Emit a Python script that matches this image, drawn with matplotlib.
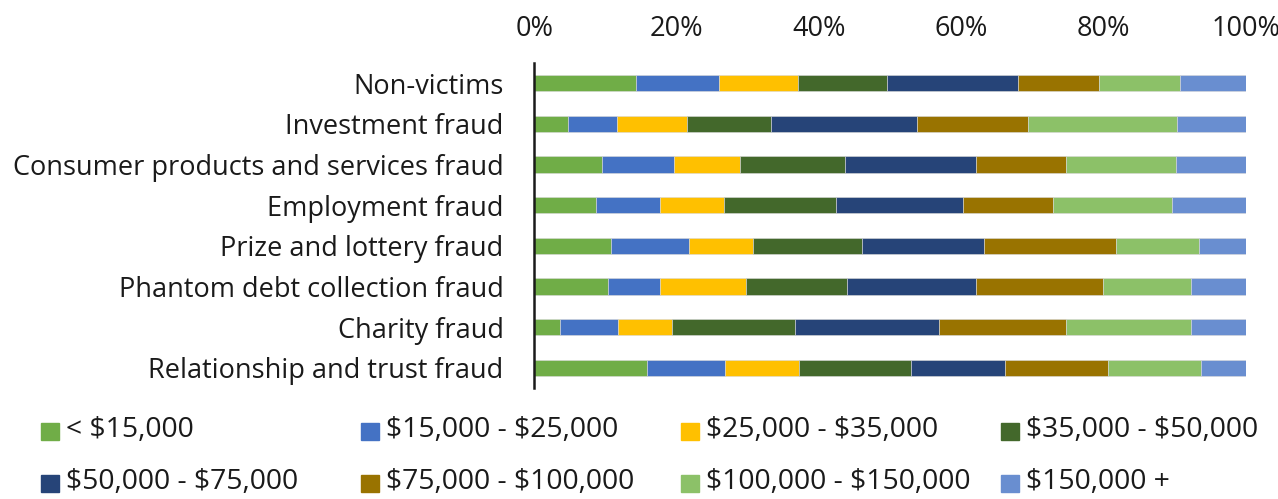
import matplotlib.pyplot as plt
from matplotlib.patches import Rectangle
import numpy as np

plt.rcParams['font.family'] = ['Open Sans', 'DejaVu Sans']
plt.rcParams['text.parse_math'] = False

categories = ['Non-victims', 'Investment fraud', 'Consumer products and services fraud',
              'Employment fraud', 'Prize and lottery fraud', 'Phantom debt collection fraud',
              'Charity fraud', 'Relationship and trust fraud']

brackets = ['< $15,000', '$15,000 - $25,000', '$25,000 - $35,000', '$35,000 - $50,000',
            '$50,000 - $75,000', '$75,000 - $100,000', '$100,000 - $150,000', '$150,000 +']

# share (%) of each bracket, one list per bracket, in category order
under_15k = [14.3, 4.7, 9.5, 8.75, 10.8, 10.3, 3.6, 15.8]
k15_25 = [11.6, 7.0, 10.2, 8.95, 11.0, 7.4, 8.2, 11.0]
k25_35 = [11.2, 9.7, 9.2, 8.9, 8.9, 12.0, 7.6, 10.4]
k35_50 = [12.4, 11.8, 14.7, 15.8, 15.4, 14.2, 17.2, 15.7]
k50_75 = [18.5, 20.6, 18.4, 17.9, 17.1, 18.2, 20.2, 13.3]
k75_100 = [11.3, 15.5, 12.7, 12.6, 18.6, 17.8, 17.9, 14.4]
k100_150 = [11.4, 21.0, 15.5, 16.7, 11.6, 12.4, 17.5, 13.1]
over_150k = [9.3, 9.7, 9.8, 10.4, 6.6, 7.7, 7.8, 6.3]

series = [under_15k, k15_25, k25_35, k35_50, k50_75, k75_100, k100_150, over_150k]
colors = ['#70AD47', '#4472C4', '#FFC000', '#43682B',
          '#264478', '#997300', '#8CC168', '#698ED0']


def main():
    fig = plt.figure(figsize=(12.78, 4.99), dpi=100)
    ax = fig.add_axes([0.418, 0.222, 0.557, 0.652])

    y = np.arange(len(categories))
    left = np.zeros(len(categories))
    for vals, c in zip(series, colors):
        vals = np.array(vals)
        ax.barh(y, vals, left=left, height=0.4, color=c, edgecolor='#d9d9d9', linewidth=0.4)
        left += vals

    fs = 19.5
    ax.set_xlim(0, 100)
    ax.set_ylim(len(categories) - 0.5, -0.5)
    ax.set_yticks(y)
    ax.set_yticklabels(categories, fontsize=fs, color='#1a1a1a')
    ax.set_xticks(np.arange(0, 101, 20))
    ax.set_xticklabels([f'{v}%' for v in range(0, 101, 20)], fontsize=fs, color='#1a1a1a')
    ax.xaxis.tick_top()
    ax.tick_params(axis='both', length=0)
    ax.tick_params(axis='x', pad=14)
    ax.tick_params(axis='y', pad=22)
    for s in ['top', 'right', 'bottom']:
        ax.spines[s].set_visible(False)
    ax.spines['left'].set_color('#1a1a1a')
    ax.spines['left'].set_linewidth(1.8)

    # legend laid out as 2 rows x 4 columns
    W, H = 1278, 499
    for i, (lab, c) in enumerate(zip(brackets, colors)):
        col, row = i % 4, i // 4
        x0 = 41 + col * 320
        yc = 431 + row * 52
        fig.patches.append(Rectangle((x0 / W, 1 - (yc + 8.5) / H), 18 / W, 17 / H,
                                     transform=fig.transFigure, color=c))
        fig.text((x0 + 25) / W, 1 - (yc - 1) / H, lab, fontsize=20.3, color='#1a1a1a',
                 va='center', ha='left')

    plt.savefig('out.png', dpi=100)


if __name__ == "__main__":
    main()
